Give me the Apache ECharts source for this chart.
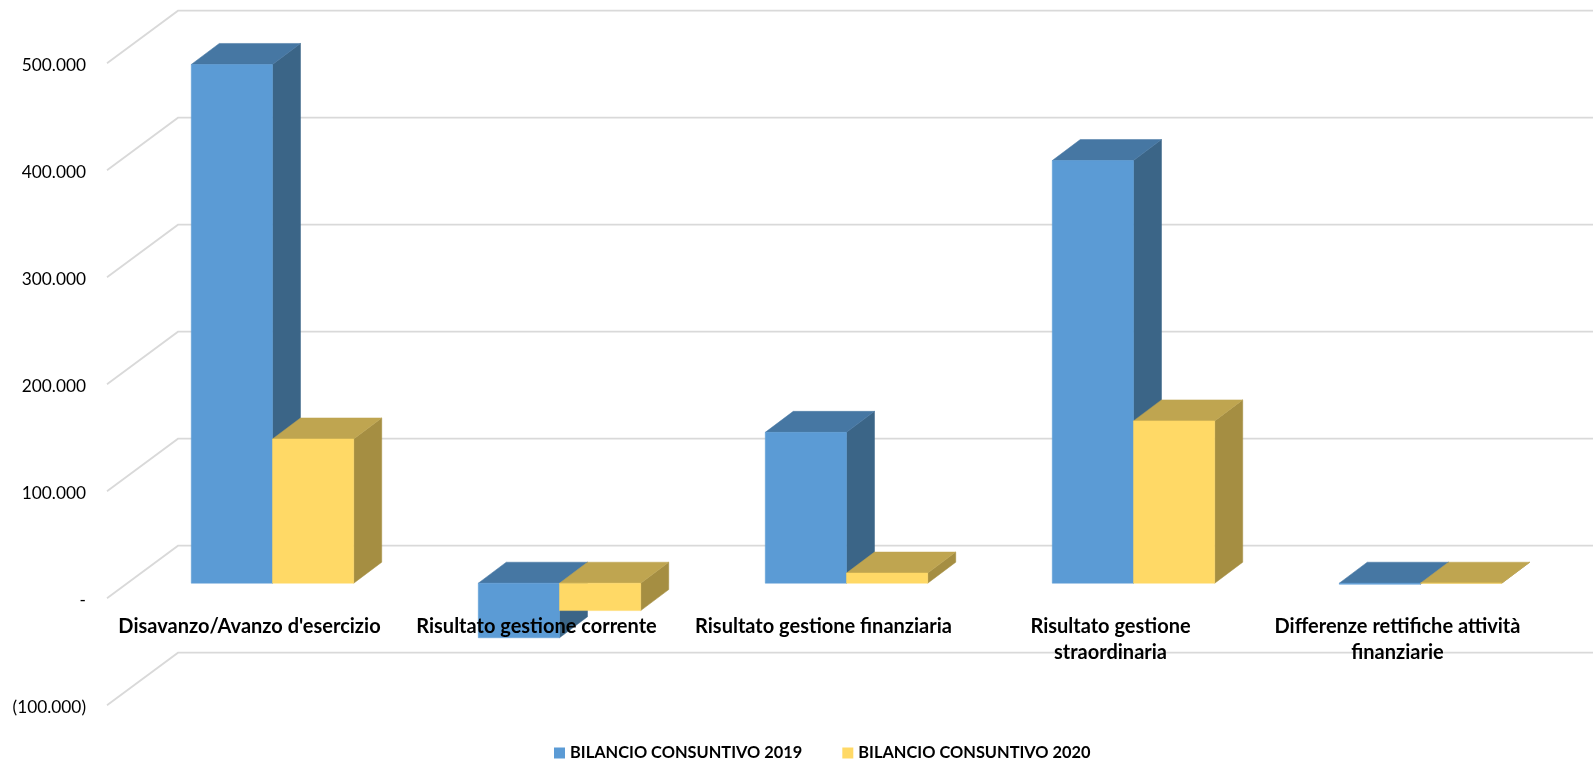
<!DOCTYPE html>
<html>
<head>
<meta charset="utf-8">
<style>html,body{margin:0;padding:0;background:#fff}#chart{width:1593px;height:763px}</style>
<script src="https://cdn.jsdelivr.net/npm/echarts@6/dist/echarts.min.js"></script>
</head>
<body>
<div id="chart"></div>
<script>
const categories = ["Disavanzo/Avanzo d'esercizio", "Risultato gestione corrente", "Risultato gestione finanziaria", "Risultato gestione\nstraordinaria", "Differenze rettifiche attività\nfinanziarie"];
const values2019 = [484800, -51000, 141000, 395000, -1000];
const values2020 = [134800, -25600, 9500, 151700, 0];
const seriesNames = ["BILANCIO CONSUNTIVO 2019", "BILANCIO CONSUNTIVO 2020"];
const yTicks = [-100000, 0, 100000, 200000, 300000, 400000, 500000];
const yTickLabels = ["(100.000)", "-", "100.000", "200.000", "300.000", "400.000", "500.000"];

const FONT = 'Lato';
const WALL_DX = 71, WALL_DY = 52.5;   // floor depth
const PLANE_UP = 15, PLANE_RIGHT = 23; // bars sit part-way into the floor
const BAR_DX = 28, BAR_DY = 21;        // bar depth

function poly(points, fill) {
  return { type: 'polygon', shape: { points }, style: { fill, stroke: fill, lineWidth: 0.5 } };
}
function barRenderer(side, colors) {
  return function (params, api) {
    const i = api.value(0), v = api.value(1);
    const c = api.coord([i, v]), z = api.coord([i, 0]);
    const w = api.size([1, 0])[0] * 0.283;
    const x0 = c[0] + PLANE_RIGHT + (side === 0 ? -w : 0), x1 = x0 + w;
    const yVal = c[1] - PLANE_UP, yZero = z[1] - PLANE_UP;
    const top = Math.min(yVal, yZero), bot = Math.max(yVal, yZero);
    return {
      type: 'group',
      children: [
        poly([[x1, top], [x1 + BAR_DX, top - BAR_DY], [x1 + BAR_DX, bot - BAR_DY], [x1, bot]], colors.side),
        poly([[x0, top], [x1, top], [x1 + BAR_DX, top - BAR_DY], [x0 + BAR_DX, top - BAR_DY]], colors.top),
        poly([[x0, top], [x1, top], [x1, bot], [x0, bot]], colors.front)
      ]
    };
  };
}
function gridRenderer(params, api) {
  const y = api.coord([0, api.value(1)])[1];
  const left = params.coordSys.x + 1;
  return {
    type: 'polyline',
    shape: { points: [[left, y], [left + WALL_DX, y - WALL_DY], [1593, y - WALL_DY]] },
    style: { fill: null, stroke: '#D9D9D9', lineWidth: 1.8 }
  };
}

const chart = echarts.init(document.getElementById('chart'), null, { renderer: 'canvas' });
chart.setOption({
  animation: false,
  backgroundColor: '#fff',
  grid: { left: 106, top: 63.2, width: 1435, height: 642, containLabel: false, outerBoundsMode: 'none' },
  legend: {
    data: seriesNames, left: 549, top: 740, icon: 'rect', itemWidth: 11, itemHeight: 11, itemGap: 40,
    textStyle: { fontFamily: FONT, fontWeight: 'bold', fontSize: 16.4, color: '#000', padding: [1, 0, 0, 0] }
  },
  xAxis: {
    type: 'category', data: categories, z: 10, position: 'bottom', offset: -107,
    axisLine: { show: false, onZero: false }, axisTick: { show: false }, splitLine: { show: false },
    axisLabel: { interval: 0, margin: 15, fontFamily: FONT, fontWeight: 'bold', fontSize: 20, lineHeight: 26.5, color: '#000' }
  },
  yAxis: {
    type: 'value', min: -100000, max: 500000, interval: 100000,
    axisLine: { show: false }, axisTick: { show: false }, splitLine: { show: false },
    axisLabel: {
      margin: 20, fontFamily: FONT, fontSize: 17.3, color: '#000', verticalAlign: 'top', lineHeight: 4,
      formatter: v => yTickLabels[yTicks.indexOf(v)]
    }
  },
  series: [
    { type: 'custom', name: 'grid', silent: true, z: 1, clip: false, renderItem: gridRenderer,
      encode: { x: 0, y: 1 }, data: yTicks.map(v => [0, v]) },
    { type: 'custom', name: seriesNames[0], z: 2, clip: false, itemStyle: { color: '#5B9BD5' },
      renderItem: barRenderer(0, { front: '#5B9BD5', top: '#4677A3', side: '#3B6587' }),
      encode: { x: 0, y: 1 }, data: values2019.map((v, i) => [i, v]) },
    { type: 'custom', name: seriesNames[1], z: 3, clip: false, itemStyle: { color: '#FFD966' },
      renderItem: barRenderer(1, { front: '#FFD966', top: '#BFA550', side: '#A58E42' }),
      encode: { x: 0, y: 1 }, data: values2020.map((v, i) => [i, v]) }
  ]
});
</script>
</body>
</html>
